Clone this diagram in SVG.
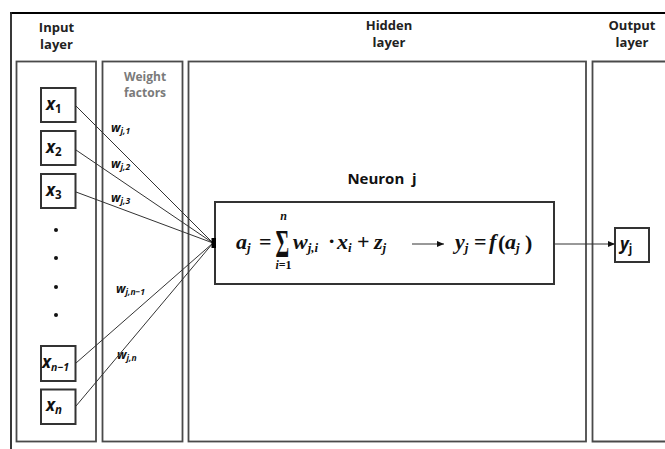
<svg xmlns="http://www.w3.org/2000/svg" width="665" height="449" viewBox="0 0 665 449">
<defs>
<style>
.panel{fill:none;stroke:#4a4a4a;stroke-width:1.8}
.box{fill:#fff;stroke:#333;stroke-width:2}
.hdr{font-family:"Open Sans","Noto Sans",sans-serif;font-weight:bold;font-size:13px;fill:#222;text-anchor:middle}
.wf{font-family:"Open Sans","Noto Sans",sans-serif;font-weight:bold;font-size:12px;fill:#7a7a7a;text-anchor:middle}
.nj{font-family:"Open Sans","Noto Sans",sans-serif;font-weight:bold;font-size:15px;fill:#111;text-anchor:middle}
.xl{font-family:"Open Sans","Noto Sans",sans-serif;font-weight:bold;font-style:italic;font-size:17px;fill:#111}
.xs{font-size:11.5px;font-style:normal}
.xi{font-size:11.5px;font-style:italic}
.w{font-family:"Open Sans","Noto Sans",sans-serif;font-weight:bold;font-style:italic;font-size:12px;fill:#111}
.s{font-size:8.5px}
.m{font-family:"Liberation Serif","DejaVu Serif",serif;font-weight:bold;font-style:italic;font-size:22px;fill:#111}
.mr{font-family:"Liberation Serif","DejaVu Serif",serif;font-weight:bold;font-size:22px;fill:#111}
.ms{font-size:13px}
.lim{font-family:"Liberation Serif","DejaVu Serif",serif;font-weight:bold;font-size:12px;fill:#111;text-anchor:middle}
.conn{stroke:#333;stroke-width:1;fill:none}
.dot{fill:#111}
</style>
<marker id="ah" markerWidth="8" markerHeight="8" refX="7" refY="4" orient="auto" markerUnits="userSpaceOnUse">
<path d="M0,1 L7,4 L0,7 Z" fill="#111"/>
</marker>
</defs>
<rect width="665" height="449" fill="#fff"/>
<g id="frame">
<line x1="10" y1="13" x2="665" y2="13" stroke="#000" stroke-width="2.2"/>
<line x1="11" y1="12" x2="11" y2="449" stroke="#222" stroke-width="1.8"/>
</g>
<g id="headers">
<text class="hdr" x="56.5" y="32">Input</text>
<text class="hdr" x="56.5" y="49">layer</text>
<text class="hdr" x="389" y="30">Hidden</text>
<text class="hdr" x="389" y="47">layer</text>
<text class="hdr" x="632" y="30">Output</text>
<text class="hdr" x="632" y="47">layer</text>
</g>
<g id="panels">
<rect class="panel" x="16.5" y="61.5" width="79.5" height="380"/>
<rect class="panel" x="102.5" y="61.5" width="80" height="380"/>
<rect class="panel" x="188.5" y="61.5" width="397.5" height="380"/>
<path class="panel" d="M666,61.5 H592.5 V441.5 H666"/>
<text class="wf" x="145" y="81">Weight</text>
<text class="wf" x="145" y="97">factors</text>
</g>
<g id="weights">
<text class="w" x="111" y="132">w<tspan class="s" dy="2">j,1</tspan></text>
<text class="w" x="111" y="168">w<tspan class="s" dy="2">j,2</tspan></text>
<text class="w" x="111" y="202">w<tspan class="s" dy="2">j,3</tspan></text>
<text class="w" x="116" y="293">w<tspan class="s" dy="2">j,n−1</tspan></text>
<text class="w" x="117" y="359">w<tspan class="s" dy="2">j,n</tspan></text>
</g>
<g id="x1"><rect class="box" x="41" y="88" width="34.5" height="34"/><text class="xl" x="46" y="110">x<tspan class="xs" dy="3">1</tspan></text></g>
<g id="x2"><rect class="box" x="41" y="131" width="34.5" height="34"/><text class="xl" x="46" y="153">x<tspan class="xs" dy="3">2</tspan></text></g>
<g id="x3"><rect class="box" x="41" y="174" width="34.5" height="34"/><text class="xl" x="46" y="196">x<tspan class="xs" dy="3">3</tspan></text></g>
<g id="dots">
<circle class="dot" cx="56" cy="230" r="2"/>
<circle class="dot" cx="56" cy="258" r="2"/>
<circle class="dot" cx="56" cy="287" r="2"/>
<circle class="dot" cx="56" cy="315" r="2"/>
</g>
<g id="xn1"><rect class="box" x="41" y="346" width="34.5" height="35"/><text class="xl" x="42" y="368">x<tspan class="xi" style="font-size:10.5px" dy="3">n−1</tspan></text></g>
<g id="xn"><rect class="box" x="41" y="389.5" width="34.5" height="34.5"/><text class="xl" x="46" y="411">x<tspan class="xi" dy="3">n</tspan></text></g>
<g id="neuron">
<text class="nj" x="382" y="184">Neuron&#160;&#160;j</text>
<rect class="box" x="215" y="202" width="339" height="82"/>
<text class="m" x="236" y="249">a<tspan class="ms" dy="3">j</tspan></text>
<text class="mr" x="259" y="249">=</text>
<text class="mr" transform="translate(275.5,257) scale(0.95,1.85)" font-size="26" font-weight="normal">Σ</text>
<text class="lim" font-style="italic" x="283.5" y="220">n</text>
<text class="lim" x="283.5" y="269"><tspan font-style="italic">i</tspan>=1</text>
<text class="m" x="293" y="249">w<tspan class="ms" dy="3">j,i</tspan></text>
<text class="mr" x="328" y="248">·</text>
<text class="m" x="337" y="249">x<tspan class="ms" dy="3">i</tspan></text>
<text class="mr" x="357" y="249">+</text>
<text class="m" x="374" y="249">z<tspan class="ms" dy="3">j</tspan></text>
<text class="m" x="455" y="249">y<tspan class="ms" dy="3">j</tspan></text>
<text class="mr" x="474" y="249">=</text>
<text class="m" x="489" y="249">f</text>
<text class="mr" x="498" y="250" font-weight="normal" font-size="24">(</text>
<text class="m" x="505" y="249">a<tspan class="ms" dy="3">j</tspan></text>
<text class="mr" x="525" y="250" font-weight="normal" font-size="24">)</text>
</g>
<g id="yj"><rect class="box" x="615" y="228" width="34" height="34"/><text class="xl" x="620" y="250" font-style="normal">y<tspan class="xs" dy="3">j</tspan></text></g>
<g id="connectors">
<line class="conn" x1="76" y1="106" x2="213" y2="243"/>
<line class="conn" x1="76" y1="150" x2="213" y2="243"/>
<line class="conn" x1="76" y1="192" x2="213" y2="243"/>
<line class="conn" x1="76" y1="363" x2="213" y2="243"/>
<line class="conn" x1="76" y1="406" x2="213" y2="243"/>
<rect x="211.5" y="238" width="4.5" height="10" fill="#000"/>
<line class="conn" x1="412" y1="244" x2="444" y2="244" stroke-width="1.6" marker-end="url(#ah)"/>
<line class="conn" x1="555" y1="244" x2="615" y2="244" marker-end="url(#ah)"/>
</g>
</svg>
